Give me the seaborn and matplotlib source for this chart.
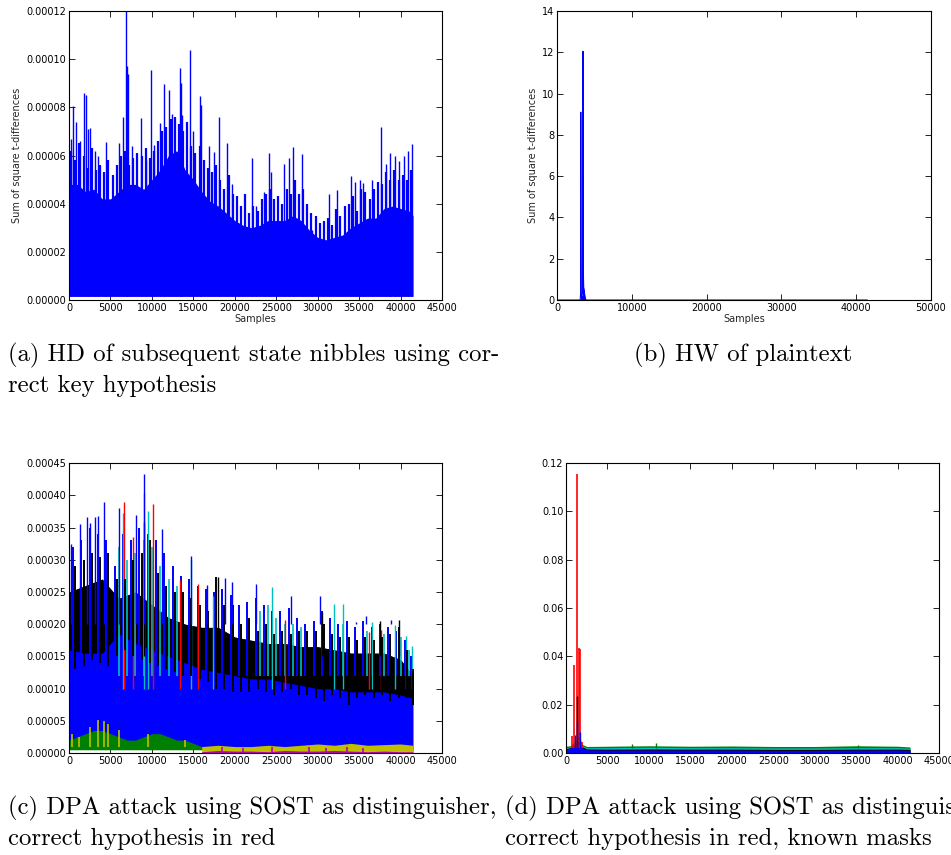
import numpy as np
import pandas as pd
import seaborn as sns
import matplotlib
matplotlib.use('Agg')
from matplotlib import pyplot as plt
from matplotlib.ticker import FormatStrFormatter, MultipleLocator

#%%############################################################################
#    Data
###############################################################################

# (a) HD of subsequent state nibbles, in units of 1e-5
a_x = list(range(0, 42000, 1000)) + [41500]
a_body = [4.8, 4.8, 4.5, 4.6, 4.2, 4.2, 4.5, 4.8, 4.8, 4.6, 5.0, 5.4, 6.0, 6.2, 5.4,
          5.0, 4.5, 4.1, 3.9, 3.6, 3.3, 3.1, 3.0, 3.1, 3.3, 3.3, 3.3, 3.5, 3.3, 2.9,
          2.6, 2.5, 2.6, 2.7, 3.0, 3.2, 3.4, 3.4, 3.8, 3.9, 3.8, 3.7, 3.5]
a_floor = 0.15
# ragged top of the trace, one value per 500 samples
a_mid_x = list(range(250, 41500, 500))
a_mid_y = [6.2, 5.8, 6.5, 6.0, 5.5, 6.3, 5.4, 5.6, 5.3, 5.8,
           5.2, 5.6, 6.0, 6.2, 5.6, 5.9, 6.1, 6.0, 6.3, 5.9,
           6.2, 6.6, 7.0, 7.2, 7.5, 7.6, 7.3, 7.0, 7.4, 6.4,
           6.1, 6.4, 5.8, 5.5, 5.3, 5.6, 5.0, 4.6, 5.2, 4.4,
           4.3, 3.9, 4.4, 3.6, 3.9, 3.7, 4.2, 4.4, 4.6, 4.2,
           4.3, 4.0, 4.6, 4.4, 5.0, 4.4, 4.6, 4.0, 3.6, 3.5,
           3.2, 3.3, 3.4, 3.1, 3.8, 3.5, 3.9, 4.0, 4.3, 3.7,
           4.6, 4.5, 4.2, 4.6, 4.9, 4.8, 5.3, 5.0, 5.4, 5.0,
           5.2, 5.0, 5.4]
a_spike_x = [240, 440, 840, 1300, 1770, 2050, 2290, 2570, 3170, 3450, 4500, 5980,
             6500, 6900, 6950, 7100, 7600, 8680, 9240, 9840, 10240, 10960, 11440,
             12000, 12370, 13370, 13500, 13610, 14540, 14980, 15820, 15980, 16870,
             17430, 18150, 19040, 19680, 22090, 22570, 23490, 24180, 24340, 25900,
             26550, 27070, 28150, 29360, 31370, 32370, 32970, 33980, 34540, 35100,
             35460, 36590, 37590, 38190, 38670, 39320, 39840, 40400, 40920, 41330]
a_spike_y = [6.7, 8.07, 7.4, 6.6, 8.6, 8.5, 7.1, 7.15, 6.2, 6.0, 6.57, 6.5,
             7.6, 12.0, 9.7, 9.4, 6.4, 7.56, 5.8, 9.57, 6.43, 7.35, 8.95,
             8.74, 7.74, 9.64, 9.0, 7.67, 10.4, 7.0, 8.46, 8.1, 6.4,
             6.15, 7.6, 6.5, 4.8, 5.9, 3.9, 4.5, 6.1, 5.3, 5.66,
             5.9, 6.36, 6.08, 2.9, 4.4, 4.55, 2.13, 5.14, 4.9, 5.0,
             4.86, 5.0, 7.2, 5.66, 6.1, 6.0, 5.76, 6.0, 6.2, 6.47]

# (b) HW of plaintext
b_x = [0, 3100, 3150, 3180, 3210, 3250, 3400, 3480, 3520, 3560, 3620, 3700, 3800, 3900, 41500]
b_y = [0, 0, 0.3, 9.1, 0.4, 0.2, 0.3, 12.05, 1.5, 0.6, 0.5, 0.25, 0.05, 0, 0]

# (c) DPA attack, SOST distinguisher, in units of 1e-4
c_x = list(range(0, 42000, 2000)) + [41500]
c_blue_low = [0.1, 0.1, 0.1, 0.1, 0.1, 0.1, 0.1, 0.08, 0.06, 0.05, 0.04,
              0.04, 0.04, 0.03, 0.03, 0.03, 0.03, 0.03, 0.03, 0.03, 0.03, 0.03]
c_black_top = [2.5, 2.6, 2.7, 2.4, 2.5, 2.3, 2.1, 2.0, 1.95, 1.95, 1.8,
               1.75, 1.7, 1.7, 1.65, 1.65, 1.6, 1.55, 1.55, 1.55, 1.45, 1.2]
c_black_low = [1.6, 1.55, 1.55, 1.85, 1.7, 1.6, 1.5, 1.4, 1.3, 1.25, 1.2,
               1.15, 1.15, 1.1, 1.05, 1.0, 1.0, 0.95, 0.95, 0.95, 0.9, 0.85]
# ragged edges, one value per 1000 samples
c_mid_x = list(range(500, 41000, 1000)) + [41300]
c_black_up = [2.9, 3.0, 3.1, 3.05, 3.1, 2.7, 2.7, 3.0, 3.1, 3.3, 2.8, 2.6, 2.5, 2.5,
              2.4, 2.3, 2.2, 2.74, 2.3, 2.3, 2.0, 2.1, 1.9, 2.0, 1.85, 1.9, 1.85, 1.9,
              1.9, 1.9, 2.0, 1.85, 1.8, 1.8, 1.75, 1.8, 1.75, 1.8, 1.85, 1.95, 1.6, 1.3]
c_black_dn = [1.3, 1.35, 1.45, 1.4, 1.35, 1.5, 1.6, 1.5, 1.45, 1.4, 1.35, 1.3, 1.25, 1.2,
              1.2, 1.15, 1.1, 1.0, 1.0, 0.95, 0.95, 0.95, 1.0, 0.95, 0.9, 0.95, 1.0, 0.9,
              0.9, 0.85, 0.8, 0.9, 0.85, 0.75, 0.85, 0.9, 0.85, 0.9, 0.8, 0.85, 0.85, 0.75]
c_blue_up = [3.2, 3.3, 3.5, 3.4, 3.3, 2.9, 3.4, 3.3, 3.5, 3.4, 3.3, 3.1, 2.9, 2.75,
             2.7, 2.6, 2.55, 2.5, 2.55, 2.45, 2.3, 2.35, 2.4, 2.3, 2.2, 2.2, 2.25, 2.1,
             2.0, 2.05, 2.2, 2.1, 2.0, 2.05, 1.95, 2.05, 1.95, 2.0, 1.95, 1.9, 1.75, 1.5]
c_cyan_mx = [6000, 7000, 8000, 9000, 10000, 11000, 12000, 13000, 23000, 24000, 25000,
             26000, 27000, 28000, 33000, 36000, 38000, 40000, 41000]
c_cyan_my = [3.2, 3.0, 3.1, 3.3, 3.2, 2.9, 2.7, 2.6, 2.2, 2.3, 2.1,
             2.0, 2.0, 1.95, 2.0, 1.9, 1.85, 1.8, 1.6]
c_blue_sx = [240, 1330, 2210, 2530, 3130, 3450, 4260, 6060, 8030, 9000, 11250, 14700,
             16590, 18800, 19640, 22610, 26830, 30320, 34580, 35780, 38880]
c_blue_sy = [3.24, 3.56, 3.67, 3.57, 3.67, 3.68, 3.89, 3.80, 3.70, 4.33, 3.48, 3.06,
             2.61, 2.71, 2.66, 2.62, 2.44, 2.43, 2.04, 2.12, 2.06]
c_red_sx = [6670, 10160, 7670, 13410, 15580, 26100, 36180, 37670]
c_red_sy = [3.90, 3.86, 3.36, 2.69, 2.63, 2.06, 1.88, 1.91]
c_cyan_sx = [9000, 9480, 6470, 14700, 17390, 24540, 31930, 33050, 36590, 39360, 40680, 41320]
c_cyan_sy = [4.03, 3.75, 3.72, 3.0, 2.43, 2.58, 2.31, 2.31, 2.04, 1.99, 1.82, 1.66]
c_black_sx = [9000, 17990, 30480, 37510, 39800]
c_black_sy = [3.59, 2.74, 2.19, 2.05, 2.06]
c_g_x = list(range(0, 18000, 1000))
c_green_top = [0.2, 0.25, 0.3, 0.35, 0.35, 0.3, 0.25, 0.2, 0.2, 0.25, 0.3, 0.3,
               0.25, 0.2, 0.2, 0.15, 0.1, 0.05]
c_yellow_sx = [300, 1200, 2500, 3500, 4200, 4700, 6000, 9500, 14000]
c_yellow_sy = [0.3, 0.25, 0.4, 0.52, 0.5, 0.45, 0.35, 0.3, 0.2]
c_r_x = list(range(16000, 42000, 2000)) + [41500]
c_yellow_top = [0.1, 0.12, 0.1, 0.1, 0.12, 0.1, 0.12, 0.14, 0.12, 0.15, 0.12, 0.13, 0.14, 0.12]
c_mag_top = [0.02, 0.04, 0.03, 0.03, 0.02, 0.04, 0.03, 0.03, 0.04, 0.03, 0.02, 0.03, 0.02, 0.02]
c_mag_sx = [18500, 21000, 24500, 29000, 31000, 33500, 35500]
c_mag_sy = [0.1, 0.08, 0.09, 0.1, 0.07, 0.09, 0.08]

# (d) DPA attack with known masks
d_x = [0, 500, 1000, 1500, 2000, 2500, 5000, 10000, 15000, 20000, 25000, 30000, 35000, 40000, 41500]
d_blue_top = [0.0015, 0.002, 0.003, 0.004, 0.002, 0.0013, 0.0012, 0.0012, 0.0012, 0.0012, 0.0011, 0.0011, 0.0012, 0.0012, 0.0011]
d_black_top = [0.0018, 0.0022, 0.0035, 0.005, 0.0025, 0.0017, 0.0016, 0.0017, 0.0016, 0.0016, 0.0015, 0.0015, 0.0016, 0.0016, 0.0015]
d_cyan_top = [0.0022, 0.0025, 0.004, 0.006, 0.003, 0.0022, 0.0022, 0.0024, 0.0022, 0.0022, 0.0021, 0.0021, 0.0022, 0.0022, 0.002]
d_green_top = [0.0028, 0.003, 0.0045, 0.007, 0.0035, 0.0027, 0.0028, 0.003, 0.0028, 0.0029, 0.0027, 0.0027, 0.003, 0.0028, 0.0025]
d_red_sx = [680, 965, 1330, 1570, 1690, 1890]
d_red_sy = [0.0069, 0.0364, 0.1154, 0.0433, 0.0429, 0.0046]
d_blue_sx = [1050, 1290, 1650]
d_blue_sy = [0.0073, 0.0133, 0.0087]
d_black_sx = [1330]
d_black_sy = [0.0235]
d_green_sx = [10900, 35200, 8000]
d_green_sy = [0.0042, 0.0035, 0.0038]

captions = {
    'a': ["(a) HD of subsequent state nibbles using cor-", "rect key hypothesis"],
    'b': ["(b) HW of plaintext"],
    'c': ["(c) DPA attack using SOST as distinguisher,", "correct hypothesis in red"],
    'd': ["(d) DPA attack using SOST as distinguisher,", "correct hypothesis in red, known masks"],
}

#%%############################################################################
#    Plot
###############################################################################

sns.set_style("ticks", {"xtick.direction": "in", "ytick.direction": "in",
                        "axes.edgecolor": "black"})
plt.rcParams['font.family'] = ['DejaVu Sans']

fig = plt.figure(figsize=(9.51, 8.55), dpi=100)
ax_a = fig.add_axes([0.0726, 0.6491, 0.3922, 0.338])
ax_b = fig.add_axes([0.5857, 0.6491, 0.3933, 0.338])
ax_c = fig.add_axes([0.0726, 0.1193, 0.3922, 0.339])
ax_d = fig.add_axes([0.5952, 0.1193, 0.3922, 0.339])

B, K, R, C, G, Y, M = '#0000ff', '#000000', '#ff0000', '#00bfbf', '#008000', '#bfbf00', '#bf00bf'

# (a)
e5 = 1e-5
a_df = pd.DataFrame({'x': a_x, 'y': np.array(a_body) * e5})
ax_a.fill_between(a_df.x, a_floor * e5, a_df.y, color=B, lw=0)
ax_a.vlines(a_mid_x, a_floor * e5, np.array(a_mid_y) * e5, color=B, lw=1.6)
ax_a.vlines(a_spike_x, a_floor * e5, np.array(a_spike_y) * e5, color=B, lw=1.0)
ax_a.set_xlim(0, 45000)
ax_a.set_ylim(0, 0.00012)
ax_a.yaxis.set_major_locator(MultipleLocator(0.00002))
ax_a.yaxis.set_major_formatter(FormatStrFormatter('%.5f'))
ax_a.set_xlabel('Samples', fontsize=7, labelpad=1)
ax_a.set_ylabel('Sum of square t-differences', fontsize=7, labelpad=3)

# (b)
b_df = pd.DataFrame({'x': b_x, 'y': b_y})
ax_b.fill_between(b_df.x, 0, b_df.y, color=B, lw=0)
sns.lineplot(data=b_df, x='x', y='y', ax=ax_b, color=B, lw=0.8, sort=False)
ax_b.set_xlim(0, 50000)
ax_b.set_ylim(0, 14)
ax_b.yaxis.set_major_locator(MultipleLocator(2))
ax_b.set_xlabel('Samples', fontsize=7, labelpad=1)
ax_b.set_ylabel('Sum of square t-differences', fontsize=7, labelpad=3)

# (c)
e4 = 1e-4
c_df = pd.DataFrame({'x': c_x, 'low': np.array(c_blue_low) * e4,
                     'ktop': np.array(c_black_top) * e4, 'klow': np.array(c_black_low) * e4})
m_df = pd.DataFrame({'x': c_mid_x, 'kup': np.array(c_black_up) * e4,
                     'kdn': np.array(c_black_dn) * e4, 'bup': np.array(c_blue_up) * e4})
ax_c.fill_between(c_df.x, c_df.low, c_df.ktop, color=B, lw=0)
ax_c.vlines(m_df.x, 1.2 * e4, m_df.bup, color=B, lw=1.4)
ax_c.vlines(c_cyan_mx, 1.2 * e4, np.array(c_cyan_my) * e4, color=C, lw=1.2)
ax_c.vlines(c_cyan_sx, 1.0 * e4, np.array(c_cyan_sy) * e4, color=C, lw=1.0)
ax_c.vlines(c_red_sx, 1.0 * e4, np.array(c_red_sy) * e4, color=R, lw=1.0)
ax_c.fill_between(c_df.x, c_df.klow, c_df.ktop, color=K, lw=0)
ax_c.vlines(m_df.x + 250, m_df.kdn, m_df.kup, color=K, lw=1.4)
ax_c.vlines(c_black_sx, 1.5 * e4, np.array(c_black_sy) * e4, color=K, lw=1.0)
ax_c.vlines(c_blue_sx, 2.0 * e4, np.array(c_blue_sy) * e4, color=B, lw=1.0)
ax_c.fill_between(c_g_x, 0.05 * e4, np.array(c_green_top) * e4, color=G, lw=0)
ax_c.vlines(c_yellow_sx, 0.1 * e4, np.array(c_yellow_sy) * e4, color=Y, lw=1.2)
ax_c.fill_between(c_r_x, 0.0, np.array(c_yellow_top) * e4, color=Y, lw=0)
ax_c.fill_between(c_r_x, 0.0, np.array(c_mag_top) * e4, color=M, lw=0)
ax_c.vlines(c_mag_sx, 0.0, np.array(c_mag_sy) * e4, color=M, lw=1.2)
ax_c.set_xlim(0, 45000)
ax_c.set_ylim(0, 0.00045)
ax_c.yaxis.set_major_locator(MultipleLocator(0.00005))
ax_c.yaxis.set_major_formatter(FormatStrFormatter('%.5f'))

# (d)
ax_d.fill_between(d_x, 0, d_green_top, color=G, lw=0)
ax_d.fill_between(d_x, 0, d_cyan_top, color=C, lw=0)
ax_d.fill_between(d_x, 0, d_black_top, color=K, lw=0)
ax_d.fill_between(d_x, 0, d_blue_top, color=B, lw=0)
ax_d.vlines(d_green_sx, 0.002, d_green_sy, color=G, lw=1.0)
ax_d.vlines(d_red_sx, 0.002, d_red_sy, color=R, lw=1.2)
ax_d.vlines(d_black_sx, 0.002, d_black_sy, color=K, lw=1.0)
ax_d.vlines(d_blue_sx, 0.0, d_blue_sy, color=B, lw=1.0)
ax_d.set_xlim(0, 45000)
ax_d.set_ylim(0, 0.12)
ax_d.yaxis.set_major_locator(MultipleLocator(0.02))
ax_d.yaxis.set_major_formatter(FormatStrFormatter('%.2f'))

for ax in [ax_a, ax_b, ax_c, ax_d]:
    if ax is not ax_b:
        ax.xaxis.set_major_locator(MultipleLocator(5000))
    else:
        ax.xaxis.set_major_locator(MultipleLocator(10000))
    ax.tick_params(which='both', direction='in', top=True, right=True,
                   length=4, width=0.6, labelsize=7, pad=2, colors='black')
    for s in ax.spines.values():
        s.set_linewidth(0.8)
        s.set_color('black')
    if ax in (ax_c, ax_d):
        ax.set_xlabel('')
        ax.set_ylabel('')

# captions (the last one runs past the right edge, as in the source page)
cap_font = dict(family='cmr10', fontsize=17.8, color='black', va='center')
fig.text(8 / 951, 1 - 355 / 855, captions['a'][0], **cap_font)
fig.text(8 / 951, 1 - 386 / 855, captions['a'][1], **cap_font)
fig.text(743 / 951, 1 - 355 / 855, captions['b'][0], ha='center', **cap_font)
fig.text(8 / 951, 1 - 808 / 855, captions['c'][0], **cap_font)
fig.text(8 / 951, 1 - 839 / 855, captions['c'][1], **cap_font)
fig.text(505 / 951, 1 - 808 / 855, captions['d'][0], **cap_font)
fig.text(505 / 951, 1 - 839 / 855, captions['d'][1], **cap_font)

fig.savefig('out.png', dpi=100)
